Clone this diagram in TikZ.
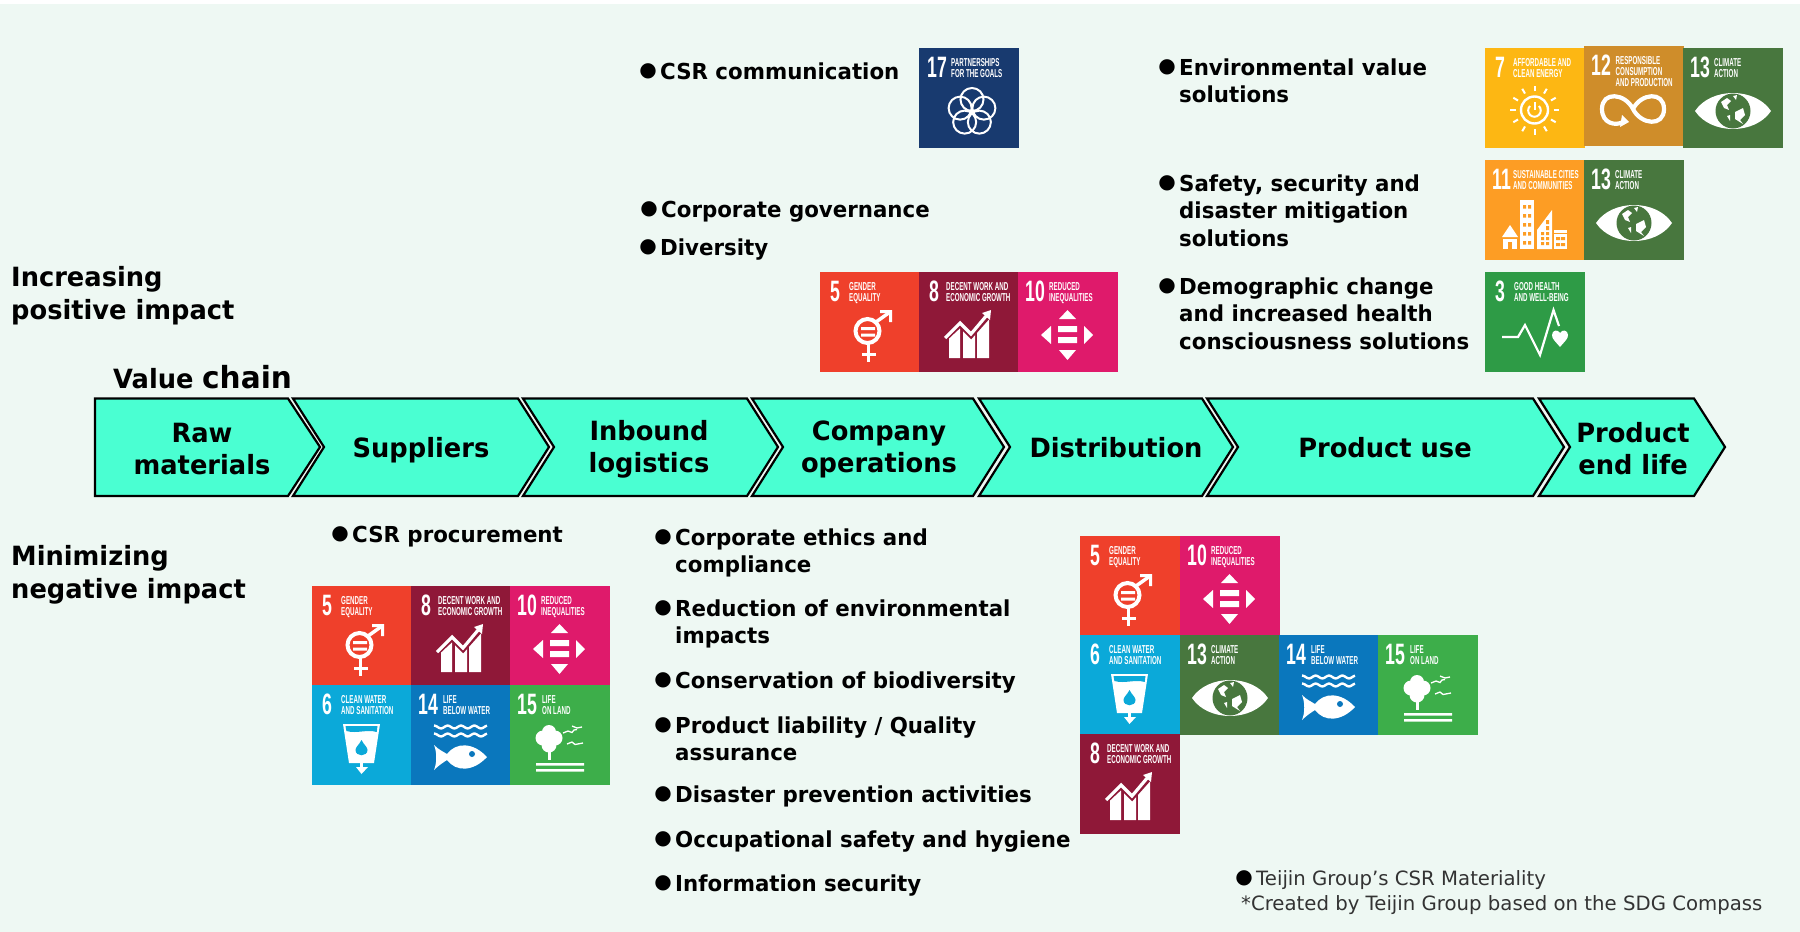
\documentclass[tikz,border=0pt]{standalone}
\usepackage{fontspec}
\setmainfont{DejaVu Sans}
\newfontfamily\boldf[FakeStretch=.97]{DejaVu Sans}
\newfontfamily\tilef[FakeStretch=.54]{Liberation Sans}
\newfontfamily\numf[FakeStretch=.6]{Liberation Sans}
\definecolor{bgc}{HTML}{EEF8F3}
\definecolor{chev}{HTML}{4AFFD2}
\definecolor{g5}{HTML}{EF402B}
\definecolor{g8}{HTML}{8F1838}
\definecolor{g10}{HTML}{DF1A6B}
\definecolor{g6}{HTML}{0BA9D9}
\definecolor{g14}{HTML}{0A77BD}
\definecolor{g15}{HTML}{3DAE4A}
\definecolor{g13}{HTML}{48773E}
\definecolor{g7}{HTML}{FDB713}
\definecolor{g12}{HTML}{CF8D2A}
\definecolor{g11}{HTML}{FD9D24}
\definecolor{g3}{HTML}{2E9B46}
\definecolor{g17}{HTML}{183A6F}
\tikzset{
  tile/.style={anchor=north west,inner sep=0pt,outer sep=0pt,minimum width=99.5pt,minimum height=99.5pt},
  tnum/.style={anchor=base west,inner sep=0pt,text=white,font=\numf\bfseries\fontsize{29.5}{30}\selectfont},
  ttitle/.style={anchor=north west,inner sep=0pt,text=white,align=left,font=\tilef\bfseries\fontsize{11.5}{11}\selectfont},
  chevron/.style={draw=black,line width=2.2pt,fill=chev,line join=miter},
  chevlabel/.style={inner sep=0pt,align=center,font=\boldf\bfseries\fontsize{26.5}{32}\selectfont},
  item/.style={anchor=north west,inner sep=0pt,align=left,font=\boldf\bfseries\fontsize{22}{27.5}\selectfont},
  bull/.style={anchor=center,inner sep=0pt,font=\fontsize{20}{20}\selectfont},
  head/.style={anchor=north west,inner sep=0pt,align=left,font=\boldf\bfseries\fontsize{26.5}{33}\selectfont},
  foot/.style={anchor=north west,inner sep=0pt,align=left,text=black!80,font=\fontsize{19.7}{25}\selectfont},
  ink/.style={fill=white,draw=none},
  inkl/.style={draw=white,fill=none},
}
% --- icons, drawn in tile coordinates 0..99 ---
\newcommand\icongender{%
  \draw[inkl,line width=4pt] (47.5,59) circle (12);
  \fill[ink] (41,55) rectangle (55,58) (41,61.5) rectangle (55,64.5);
  \draw[inkl,line width=3.5pt] (48.5,72) -- (48.5,90) (42,82.5) -- (56,82.5);
  \draw[inkl,line width=3.5pt] (56,50) -- (70,40);
  \fill[ink] (60,38) -- (72,38) -- (72,50) -- (69,50) -- (69,41) -- (60,41) -- cycle;
}
\newcommand\icongrowth{%
  \fill[ink] (30,66) -- (41,56) -- (41,86) -- (30,86) -- cycle;
  \fill[ink] (44,58) -- (52,66) -- (56,62) -- (56,86) -- (44,86) -- cycle;
  \fill[ink] (58,55) -- (70,44) -- (70,86) -- (58,86) -- cycle;
  \draw[draw=tilecol,line width=6pt] (25,67) -- (41,52) -- (52,63) -- (68,45);
  \draw[inkl,line width=3.2pt] (26,66) -- (41,51) -- (52,62) -- (68,43);
  \fill[ink] (63,41) -- (72,38) -- (71,48) -- cycle;
}
\newcommand\iconineq{%
  \fill[ink] (41,47) -- (49.5,38) -- (58,47) -- cycle;
  \fill[ink] (41,78) -- (49.5,88) -- (58,78) -- cycle;
  \fill[ink] (33,54) -- (23,63) -- (33,72) -- cycle;
  \fill[ink] (66,54) -- (75,63) -- (66,72) -- cycle;
  \fill[ink] (40,54) rectangle (59,60) (40,65) rectangle (59,71);
}
\newcommand\iconwater{%
  \draw[inkl,line width=1.6pt] (32,40) -- (67,40);
  \fill[ink] (31,39) -- (68,39) -- (62,78) -- (37,78) -- cycle;
  \fill[fill=tilecol] (33.5,41) -- (65.5,41) -- (64.7,47) .. controls (55,44) and (45,49) .. (34.4,46) -- cycle;
  \fill[fill=tilecol] (49.5,55) .. controls (47,60) and (43.5,62) .. (43.5,65) .. controls (43.5,72) and (55.5,72) .. (55.5,65) .. controls (55.5,62) and (52,60) .. (49.5,55) -- cycle;
  \draw[inkl,line width=3pt] (49.5,77) -- (49.5,84);
  \fill[ink] (44,82) -- (56,82) -- (49.5,89) -- cycle;
}
\newcommand\iconfish{%
  \draw[inkl,line width=2.4pt] plot[domain=23:76,samples=45] (\x,{42+1.4*sin(\x*27)});
  \draw[inkl,line width=2.4pt] plot[domain=23:76,samples=45] (\x,{50+1.4*sin(\x*27)});
  \fill[ink] (23,60) .. controls (28,65) and (33,67) .. (36,69) .. controls (45,57) and (62,57) .. (76,72)
     .. controls (62,87) and (45,87) .. (36,75) .. controls (33,77) and (28,80) .. (23,85) .. controls (26,78) and (26,67) .. (23,60) -- cycle;
  \fill[fill=tilecol] (61,69) circle (3);
}
\newcommand\icontree{%
  \fill[ink] (39,47) circle (7) (33,53) circle (7.5) (45,53) circle (7.5) (39,60) circle (7.5);
  \fill[ink] (38,66) rectangle (41,75);
  \fill[ink] (26,78) rectangle (74,80.5) (26,84) rectangle (74,86.5);
  \draw[inkl,line width=1.3pt] (53,48) -- (58,46) -- (62,47.5) -- (64,45) -- (67,44.5);
  \draw[inkl,line width=1.3pt] (62,41) -- (67,43) -- (72,42);
  \draw[inkl,line width=1.3pt] (57,59) -- (62,57) -- (65,59.5) -- (73,58);
}
\newcommand\iconeye{%
  \fill[ink] (12,63) .. controls (28,39) and (72,39) .. (88,63) .. controls (72,87) and (28,87) .. (12,63) -- cycle;
  \fill[fill=tilecol] (50,63) circle (17.5);
  \fill[ink] (38,54) -- (44,50) -- (48,53) -- (44,57) -- (46,62) -- (41,60) -- cycle;
  \fill[ink] (52,64) -- (60,60) -- (62,67) -- (57,72) -- (60,76) -- (52,71) -- cycle;
  \fill[ink] (50,48) -- (54,47) -- (53,52) -- cycle;
  \fill[ink] (44,68) -- (47,67) -- (47,73) -- cycle;
}
\newcommand\iconsun{%
  \draw[inkl,line width=2.4pt] (49.5,62) circle (13.5);
  \draw[inkl,line width=2pt] (45,58) arc[start angle=225,end angle=-45,radius=6.3];
  \draw[inkl,line width=2pt] (49.5,54) -- (49.5,62);
  \foreach \a in {0,30,...,330}{\draw[inkl,line width=2pt] ([shift={(\a:19)}]49.5,62) -- ([shift={(\a:24.5)}]49.5,62);}
}
\newcommand\iconinf{%
  \draw[inkl,line width=4.2pt] (49,63) .. controls (57,47) and (80,45) .. (80,63) .. controls (80,81) and (57,79) .. (49,63)
     .. controls (41,47) and (18,45) .. (18,63) .. controls (18,78) and (32,80) .. (39,76);
  \fill[ink] (38,69) -- (45,76) -- (36,81) -- cycle;
}
\newcommand\iconcity{%
  \fill[ink] (17,77) -- (25,65) -- (33,77) -- cycle;
  \fill[ink] (18,78.5) rectangle (32,89);
  \fill[fill=tilecol] (23,82) rectangle (27,89);
  \fill[ink] (35,40) rectangle (49,89);
  \foreach \yy in {45,54,63,72,81}{\fill[fill=tilecol] (38,\yy) rectangle (41,\yy+3.5) (43,\yy) rectangle (46,\yy+3.5);}
  \fill[ink] (52,70) -- (67,50) -- (67,89) -- (52,89) -- cycle;
  \foreach \yy in {72,77,82}{\fill[fill=tilecol] (56,\yy) rectangle (59,\yy+3) (61,\yy) rectangle (64,\yy+3);}
  \fill[fill=tilecol] (61,60) rectangle (64,64) (61,66) rectangle (64,70);
  \fill[ink] (69,70) rectangle (82,89);
  \fill[fill=tilecol] (69,73) rectangle (82,74);
  \foreach \yy in {77,83}{\fill[fill=tilecol] (71,\yy) rectangle (75,\yy+3) (76,\yy) rectangle (80,\yy+3);}
}
\newcommand\iconheart{%
  \draw[inkl,line width=2.2pt,line join=miter] (17,65) -- (33,65) -- (40,53) -- (55,83) -- (68.5,38) -- (74,54);
  \fill[ink] (75,75) .. controls (70,69) and (67,67) .. (67,63) .. controls (67,58) and (73,57) .. (75,61)
     .. controls (77,57) and (83,58) .. (83,63) .. controls (83,67) and (80,69) .. (75,75) -- cycle;
}
\newcommand\iconrings{%
  \foreach \a in {-90,-18,54,126,198}{\draw[inkl,line width=2pt] ([shift={(\a:12.5)}]53,64) circle (11.5);}
}
% \sdg{id}{x}{y}{colour}{number}{number x}{title x}{title}{icon}
\newcommand\sdg[9]{%
  \colorlet{tilecol}{#4}%
  \node[tile,fill=#4] (#1) at (#2,#3) {};
  \begin{scope}[shift={(#2,#3)}]
    #9
    \node[tnum] (#1n) at (#6,29) {#5};
    \node[ttitle] (#1t) at (#7,9.5) {\rule{0pt}{9pt}#8};
  \end{scope}
}
% \listitem{id}{x}{baseline y}{text}
\newcommand\listitem[4]{%
  \node[item] (#1) at (#2,#3-20) {\rule{0pt}{20pt}#4};
  \node[bull] (#1b) at (#2-12,#3-8) {●};
}
\newcommand\gendertitle{GENDER\\EQUALITY}
\newcommand\worktitle{DECENT WORK AND\\ECONOMIC GROWTH}
\newcommand\ineqtitle{REDUCED\\INEQUALITIES}
\newcommand\watertitle{CLEAN WATER\\AND SANITATION}
\newcommand\fishtitle{LIFE\\BELOW WATER}
\newcommand\landtitle{LIFE\\ON LAND}
\newcommand\climatetitle{CLIMATE\\ACTION}
\begin{document}
\begin{tikzpicture}[x=1pt,y=-1pt]
\useasboundingbox (0,0) rectangle (1800,932);
\fill[white] (0,0) rectangle (1800,932);
\fill[bgc] (0,4) rectangle (1800,932);

% value chain
\draw[chevron] (95,398.5) -- (288,398.5) -- (320,447) -- (288,496) -- (95,496) -- cycle;
\draw[chevron] (293,398.5) -- (518,398.5) -- (549,447) -- (518,496) -- (293,496) -- (324,447) -- cycle;
\draw[chevron] (523,398.5) -- (747,398.5) -- (778,447) -- (747,496) -- (523,496) -- (554,447) -- cycle;
\draw[chevron] (752,398.5) -- (973,398.5) -- (1004,447) -- (973,496) -- (752,496) -- (783,447) -- cycle;
\draw[chevron] (979,398.5) -- (1202,398.5) -- (1233,447) -- (1202,496) -- (979,496) -- (1010,447) -- cycle;
\draw[chevron] (1207,398.5) -- (1533,398.5) -- (1564,447) -- (1533,496) -- (1207,496) -- (1238,447) -- cycle;
\draw[chevron] (1539,398.5) -- (1694,398.5) -- (1725,447) -- (1694,496) -- (1539,496) -- (1570,447) -- cycle;
\node[chevlabel] (c1) at (202,449) {Raw\\materials};
\node[chevlabel] (c2) at (421,450) {Suppliers};
\node[chevlabel] (c3) at (649,449) {Inbound\\logistics};
\node[chevlabel] (c4) at (879,449) {Company\\operations};
\node[chevlabel] (c5) at (1116,448) {Distribution};
\node[chevlabel] (c6) at (1385,448) {Product use};
\node[chevlabel] (c7) at (1633,449) {Product\\end life};

% headings
\node[head] (h1) at (11,262) {\rule{0pt}{24pt}Increasing\\positive impact};
\node[head] (h2) at (11,541) {\rule{0pt}{24pt}Minimizing\\negative impact};
\node[anchor=base west,inner sep=0pt,font=\boldf\bfseries\fontsize{26.5}{26.5}\selectfont] (v1) at (113,388) {Value};
\node[anchor=base west,inner sep=0pt,font=\boldf\bfseries\fontsize{30.5}{30.5}\selectfont] (v2) at (202,388) {chain};

% lists
\listitem{i1}{660}{79}{CSR communication}
\listitem{i2}{661}{217}{Corporate governance}
\listitem{i3}{660}{255}{Diversity}
\listitem{i4}{1179}{75}{Environmental value\\solutions}
\listitem{i5}{1179}{191}{Safety, security and\\disaster mitigation\\solutions}
\listitem{i6}{1179}{294}{Demographic change\\and increased health\\consciousness solutions}
\listitem{i7}{352}{542}{CSR procurement}
\listitem{i8}{675}{545}{Corporate ethics and\\compliance}
\listitem{i9}{675}{616}{Reduction of environmental\\impacts}
\listitem{i10}{675}{688}{Conservation of biodiversity}
\listitem{i11}{675}{733}{Product liability / Quality\\assurance}
\listitem{i12}{675}{802}{Disaster prevention activities}
\listitem{i13}{675}{847}{Occupational safety and hygiene}
\listitem{i14}{675}{891}{Information security}

% footnote
\node[bull,text=black] (fb) at (1244,878) {●};
\node[foot] (f1) at (1256,866) {\rule{0pt}{19pt}Teijin Group’s CSR Materiality};
\node[foot] (f2) at (1241,891) {\rule{0pt}{19pt}*Created by Teijin Group based on the SDG Compass};

% tiles: top
\sdg{a17}{919}{48}{g17}{17}{8}{32}{PARTNERSHIPS\\FOR THE GOALS}{\iconrings}
\sdg{b5}{820}{272}{g5}{5}{10}{29}{\gendertitle}{\icongender}
\sdg{b8}{919}{272}{g8}{8}{10}{27}{\worktitle}{\icongrowth}
\sdg{b10}{1018}{272}{g10}{10}{7}{31}{\ineqtitle}{\iconineq}
\sdg{c7}{1485}{48}{g7}{7}{10}{28}{AFFORDABLE AND\\CLEAN ENERGY}{\iconsun}
\sdg{c12}{1584}{46}{g12}{12}{7}{31.5}{RESPONSIBLE\\CONSUMPTION\\AND PRODUCTION}{\iconinf}
\sdg{c13}{1683}{48}{g13}{13}{7}{31}{\climatetitle}{\iconeye}
\sdg{d11}{1485}{160}{g11}{11}{7}{28}{SUSTAINABLE CITIES\\AND COMMUNITIES}{\iconcity}
\sdg{d13}{1584}{160}{g13}{13}{7}{31}{\climatetitle}{\iconeye}
\sdg{e3}{1485}{272}{g3}{3}{10}{29}{GOOD HEALTH\\AND WELL-BEING}{\iconheart}
% tiles: lower left
\sdg{f5}{312}{586}{g5}{5}{10}{29}{\gendertitle}{\icongender}
\sdg{f8}{411}{586}{g8}{8}{10}{27}{\worktitle}{\icongrowth}
\sdg{f10}{510}{586}{g10}{10}{7}{31}{\ineqtitle}{\iconineq}
\sdg{f6}{312}{685}{g6}{6}{10}{29}{\watertitle}{\iconwater}
\sdg{f14}{411}{685}{g14}{14}{7}{32}{\fishtitle}{\iconfish}
\sdg{f15}{510}{685}{g15}{15}{7}{32}{\landtitle}{\icontree}
% tiles: lower right
\sdg{k5}{1080}{536}{g5}{5}{10}{29}{\gendertitle}{\icongender}
\sdg{k10}{1180}{536}{g10}{10}{7}{31}{\ineqtitle}{\iconineq}
\sdg{k6}{1080}{635}{g6}{6}{10}{29}{\watertitle}{\iconwater}
\sdg{k13}{1180}{635}{g13}{13}{7}{31}{\climatetitle}{\iconeye}
\sdg{k14}{1279}{635}{g14}{14}{7}{32}{\fishtitle}{\iconfish}
\sdg{k15}{1378}{635}{g15}{15}{7}{32}{\landtitle}{\icontree}
\sdg{k8}{1080}{734}{g8}{8}{10}{27}{\worktitle}{\icongrowth}
\end{tikzpicture}
\end{document}
